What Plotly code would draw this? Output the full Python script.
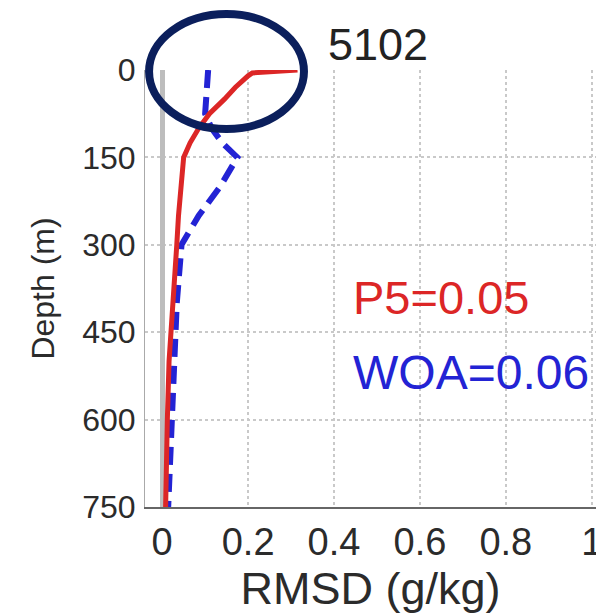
import plotly.graph_objects as go

# Depth levels (m) and RMSD profiles (g/kg)
p5_depth = [0, 5, 10, 20, 30, 50, 75, 100, 125, 150, 200, 250, 300, 400, 500, 600, 700, 750]
p5_rmsd = [0.315, 0.21, 0.2, 0.185, 0.17, 0.145, 0.11, 0.085, 0.065, 0.05, 0.043, 0.038,
           0.034, 0.024, 0.016, 0.012, 0.009, 0.008]

woa_depth = [0, 10, 20, 30, 50, 75, 100, 125, 150, 200, 250, 300, 400, 500, 600, 700, 750]
woa_rmsd = [0.107, 0.106, 0.105, 0.104, 0.102, 0.1, 0.115, 0.14, 0.175, 0.135, 0.085, 0.045,
            0.034, 0.028, 0.022, 0.016, 0.014]

x_ticks = [0, 0.2, 0.4, 0.6, 0.8, 1]
x_tick_text = ["0", "0.2", "0.4", "0.6", "0.8", "1"]
y_ticks = [0, 150, 300, 450, 600, 750]
y_tick_text = ["0", "150", "300", "450", "600", "750"]

panel_title = "5102"
p5_label = "P5=0.05"
woa_label = "WOA=0.06"

FONT = "Liberation Sans, Arial, sans-serif"
TEXT = "#2b2b2b"
RED = "#dc2626"
BLUE = "#2323d4"

fig = go.Figure()

fig.add_trace(go.Scatter(
    x=woa_rmsd, y=woa_depth, mode="lines",
    line=dict(color=BLUE, width=6, dash="18px,9px"),
))
fig.add_trace(go.Scatter(
    x=p5_rmsd, y=p5_depth, mode="lines",
    line=dict(color=RED, width=5),
))

fig.update_layout(
    width=596, height=614,
    margin=dict(l=145, r=0, t=70, b=107),
    plot_bgcolor="white", paper_bgcolor="white",
    showlegend=False,
    font=dict(family=FONT, color=TEXT),
)

fig.update_xaxes(
    range=[-0.04, 1.01],
    tickvals=x_ticks, ticktext=x_tick_text,
    tickfont=dict(size=38, family=FONT, color=TEXT),
    ticks="", ticklabelstandoff=0, ticklabeloverflow="allow",
    showgrid=True, gridcolor="#c9c9c9", griddash="dot", gridwidth=1.5,
    zeroline=True, zerolinecolor="#bdbdbd", zerolinewidth=5,
    showline=True, linecolor="#666666", linewidth=2,
    title=dict(text="RMSD (g/kg)", font=dict(size=45, family=FONT, color=TEXT), standoff=2),
    automargin=False,
)

fig.update_yaxes(
    range=[750, 0],
    tickvals=y_ticks, ticktext=y_tick_text,
    tickfont=dict(size=32, family=FONT, color=TEXT),
    ticks="", ticklabelstandoff=2,
    showgrid=True, gridcolor="#c9c9c9", griddash="dot", gridwidth=1.5,
    zeroline=False,
    showline=True, linecolor="#aaaaaa", linewidth=1,
    title=dict(text="Depth (m)", font=dict(size=32, family=FONT, color=TEXT), standoff=18),
    automargin=False,
)

# Panel label
fig.add_annotation(
    text=panel_title, xref="paper", yref="paper", x=0.517, y=1.0,
    yshift=26, showarrow=False, xanchor="center", yanchor="middle",
    font=dict(size=45, family=FONT, color="#222222"),
)

# Overall RMSD values
fig.add_annotation(
    text=p5_label, xref="paper", yref="paper", x=0.456, y=0.48,
    showarrow=False, xanchor="left", yanchor="middle",
    font=dict(size=47, family=FONT, color=RED),
)
fig.add_annotation(
    text=woa_label, xref="paper", yref="paper", x=0.456, y=0.308,
    showarrow=False, xanchor="left", yanchor="middle",
    font=dict(size=48, family=FONT, color=BLUE),
)

# Highlight ring around the near-surface layer
fig.add_shape(
    type="circle", xref="paper", yref="paper",
    x0=0.009, x1=0.3525, y0=0.865, y1=1.128,
    line=dict(color="#0b1f5c", width=8), layer="above",
)

fig.write_html("out.html")
